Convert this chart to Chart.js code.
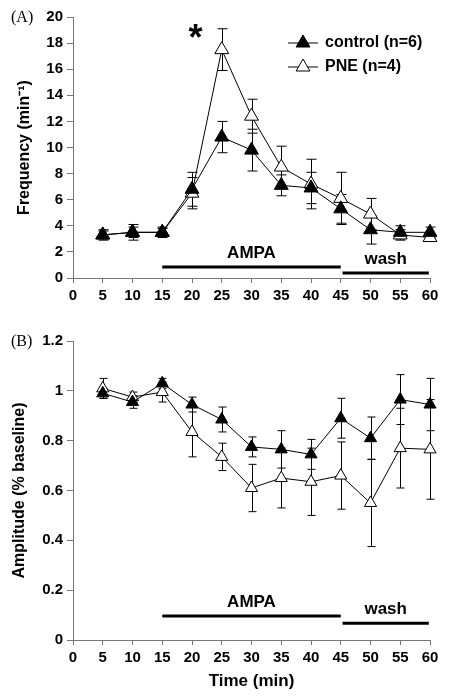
<!DOCTYPE html>
<html>
<head>
<meta charset="utf-8">
<script src="https://cdn.jsdelivr.net/npm/chart.js@4.4.1/dist/chart.umd.min.js"></script>
<style>
  body { margin: 0; background: #fff; }
  canvas { position: absolute; left: 0; }
</style>
</head>
<body>
<canvas id="chartA" width="455" height="312" style="top:0"></canvas>
<canvas id="chartB" width="455" height="377" style="top:320px"></canvas>
<script>
// time points (min)
const times = [5, 10, 15, 20, 25, 30, 35, 40, 45, 50, 55, 60];

// (A) frequency, min^-1
const freqControl    = [3.3, 3.5, 3.5, 6.8, 10.8, 9.8, 7.1, 6.9, 5.3, 3.7, 3.5, 3.5];
const freqControlErr = [0.4, 0.6, 0.4, 1.3, 1.2, 1.6, 0.8, 1.2, 1.1, 1.1, 0.5, 0.4];
const freqPne        = [3.3, 3.5, 3.5, 6.5, 17.5, 12.4, 8.5, 7.2, 6.1, 4.9, 3.3, 3.1];
const freqPneErr     = [0.3, 0.4, 0.3, 1.2, 1.6, 1.3, 1.6, 1.9, 2.0, 1.2, 0.4, 0.3];

// (B) amplitude, fraction of baseline
const ampControl    = [0.99, 0.955, 1.03, 0.945, 0.885, 0.775, 0.765, 0.745, 0.89, 0.81, 0.965, 0.945];
const ampControlErr = [0.02, 0.025, 0.02, 0.03, 0.05, 0.04, 0.075, 0.06, 0.08, 0.085, 0.1, 0.105];
const ampPne        = [1.01, 0.975, 0.995, 0.835, 0.735, 0.61, 0.65, 0.635, 0.66, 0.55, 0.77, 0.765];
const ampPneErr     = [0.04, 0.02, 0.04, 0.1, 0.055, 0.095, 0.12, 0.135, 0.135, 0.175, 0.16, 0.2];

// treatment periods (min)
const periodNames = ['AMPA', 'wash'];
const periodStart = [15, 45.3];
const periodEnd   = [45, 59.8];

const seriesNames = ['control (n=6)', 'PNE (n=4)'];

const FONT = "'Liberation Sans', Arial, sans-serif";

function toPoints(vals) {
  return times.map((t, i) => ({ x: t, y: vals[i] }));
}

// vertical error bars, drawn under the markers
const errorBars = {
  id: 'errorBars',
  beforeDatasetsDraw(chart, args, opts) {
    const { ctx, scales: { x, y } } = chart;
    ctx.save();
    ctx.strokeStyle = '#000';
    ctx.lineWidth = 1;
    chart.data.datasets.forEach(ds => {
      ds.data.forEach((p, i) => {
        const e = ds.errors[i];
        const px = Math.round(x.getPixelForValue(p.x)) + 0.5;
        const top = y.getPixelForValue(p.y + e);
        const bot = y.getPixelForValue(p.y - e);
        ctx.beginPath();
        ctx.moveTo(px, top); ctx.lineTo(px, bot);
        ctx.moveTo(px - opts.cap, top); ctx.lineTo(px + opts.cap, top);
        ctx.moveTo(px - opts.cap, bot); ctx.lineTo(px + opts.cap, bot);
        ctx.stroke();
      });
    });
    ctx.restore();
  }
};

// AMPA / wash bars, panel letter, asterisk, legend
const extras = {
  id: 'extras',
  afterDraw(chart, args, opts) {
    const { ctx, scales: { x, y } } = chart;
    ctx.save();
    ctx.fillStyle = '#000';
    ctx.strokeStyle = '#000';
    ctx.lineWidth = 3;
    periodNames.forEach((name, i) => {
      const x0 = x.getPixelForValue(periodStart[i]);
      const x1 = x.getPixelForValue(periodEnd[i]);
      const by = y.getPixelForValue(opts.barY[i]);
      ctx.beginPath();
      ctx.moveTo(x0, by); ctx.lineTo(x1, by);
      ctx.stroke();
      ctx.font = 'bold 17px ' + FONT;
      ctx.textAlign = 'center';
      ctx.textBaseline = 'bottom';
      ctx.fillText(name, (x0 + x1) / 2, by - 5);
    });

    // panel letter
    ctx.font = "16px 'Liberation Serif', 'Times New Roman', serif";
    ctx.textAlign = 'left';
    ctx.textBaseline = 'middle';
    ctx.fillText(opts.panel, 11, chart.chartArea.top + 1);

    if (opts.star) {
      ctx.font = 'bold 36px ' + FONT;
      ctx.textAlign = 'center';
      ctx.textBaseline = 'middle';
      ctx.fillText('*', x.getPixelForValue(opts.star[0]), y.getPixelForValue(opts.star[1]));
    }

    if (opts.legend) {
      const lx = 288, rows = [43, 67];
      chart.data.datasets.forEach((ds, i) => {
        const ly = rows[i];
        ctx.lineWidth = 1;
        ctx.strokeStyle = '#000';
        ctx.beginPath();
        ctx.moveTo(lx, ly); ctx.lineTo(lx + 30, ly);
        ctx.stroke();
        ctx.fillStyle = ds.pointBackgroundColor;
        ctx.beginPath();
        const r = 8;
        for (let k = 0; k < 3; k++) {
          const a = k * 2 * Math.PI / 3;
          const px = lx + 15 + Math.sin(a) * r, py = ly - Math.cos(a) * r;
          if (k === 0) ctx.moveTo(px, py); else ctx.lineTo(px, py);
        }
        ctx.closePath();
        ctx.fill(); ctx.stroke();
        ctx.fillStyle = '#000';
        ctx.font = 'bold 16px ' + FONT;
        ctx.textAlign = 'left';
        ctx.textBaseline = 'middle';
        ctx.fillText(ds.label, lx + 37, ly);
      });
    }
    ctx.restore();
  }
};

function makeDatasets(ctrl, ctrlErr, pne, pneErr, r) {
  return [
    {
      label: seriesNames[0], data: toPoints(ctrl), errors: ctrlErr, clip: false,
      borderColor: '#000', borderWidth: 1, pointStyle: 'triangle',
      pointRadius: r, pointBackgroundColor: '#000', pointBorderColor: '#000', pointBorderWidth: 1
    },
    {
      label: seriesNames[1], data: toPoints(pne), errors: pneErr, clip: false,
      borderColor: '#000', borderWidth: 1, pointStyle: 'triangle',
      pointRadius: r, pointBackgroundColor: '#fff', pointBorderColor: '#000', pointBorderWidth: 1
    }
  ];
}

function axisX(height, title) {
  return {
    type: 'linear', min: 0, max: 60,
    ticks: { stepSize: 5, color: '#000', font: { family: FONT, size: 15, weight: 'bold' }, padding: 4, maxRotation: 0 },
    grid: { drawOnChartArea: false, tickLength: 5, color: '#777' },
    border: { color: '#777', width: 1 },
    title: title ? { display: true, text: title, color: '#000', font: { family: FONT, size: 17, weight: 'bold' }, padding: { top: 0, bottom: 5 } } : { display: false },
    afterFit(s) { s.height = height; }
  };
}

function axisY(min, max, step, title, titlePad, fmt) {
  return {
    min, max,
    ticks: { stepSize: step, color: '#000', font: { family: FONT, size: 15, weight: 'bold' }, padding: 4, callback: fmt },
    grid: { drawOnChartArea: false, tickLength: 6, color: '#777' },
    border: { color: '#777', width: 1 },
    title: { display: true, text: title, color: '#000', font: { family: FONT, size: 16, weight: 'bold' }, padding: { top: titlePad, bottom: 0 } },
    afterFit(s) { s.width = 73; }
  };
}

new Chart(document.getElementById('chartA'), {
  type: 'line',
  data: { datasets: makeDatasets(freqControl, freqControlErr, freqPne, freqPneErr, 8) },
  options: {
    responsive: false, animation: false,
    layout: { padding: { top: 17, right: 25, left: 0, bottom: 0 } },
    scales: {
      x: axisX(34, null),
      y: axisY(0, 20, 2, 'Frequency (min\u207B\u00B9)', 15, v => v)
    },
    plugins: {
      legend: { display: false }, tooltip: { enabled: false },
      errorBars: { cap: 5 },
      extras: { panel: '(A)', barY: [0.85, 0.38], star: [20.6, 18.2], legend: true }
    }
  },
  plugins: [errorBars, extras]
});

new Chart(document.getElementById('chartB'), {
  type: 'line',
  data: { datasets: makeDatasets(ampControl, ampControlErr, ampPne, ampPneErr, 7) },
  options: {
    responsive: false, animation: false,
    layout: { padding: { top: 21, right: 25, left: 0, bottom: 0 } },
    scales: {
      x: axisX(57, 'Time (min)'),
      y: axisY(0, 1.2, 0.2, 'Amplitude (% baseline)', 10, v => Math.round(v * 10) / 10)
    },
    plugins: {
      legend: { display: false }, tooltip: { enabled: false },
      errorBars: { cap: 4 },
      extras: { panel: '(B)', barY: [0.096, 0.067], star: null, legend: false }
    }
  },
  plugins: [errorBars, extras]
});
</script>
</body>
</html>
